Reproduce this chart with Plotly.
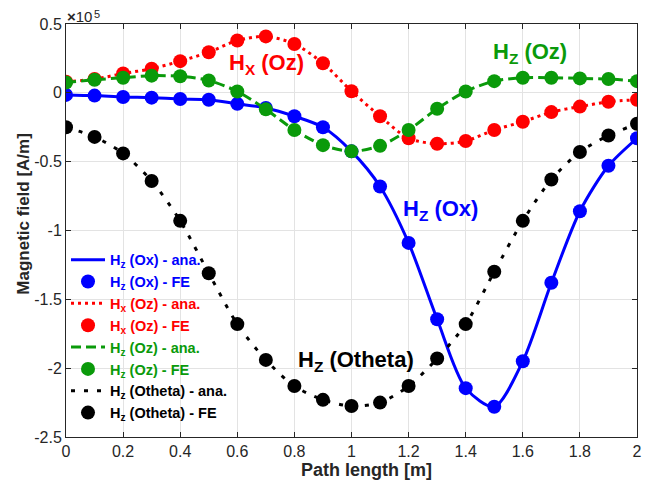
import plotly.graph_objects as go

x = [0.0, 0.1, 0.2, 0.3, 0.4, 0.5, 0.6, 0.7, 0.8, 0.9, 1.0,
     1.1, 1.2, 1.3, 1.4, 1.5, 1.6, 1.7, 1.8, 1.9, 2.0]

hz_ox = [-0.015, -0.02, -0.03, -0.035, -0.045, -0.05, -0.08, -0.11, -0.17, -0.25, -0.425,
         -0.68, -1.09, -1.645, -2.145, -2.28, -1.95, -1.38, -0.86, -0.53, -0.33]
hx_oz = [0.08, 0.10, 0.14, 0.175, 0.23, 0.295, 0.38, 0.41, 0.355, 0.215, 0.012,
         -0.17, -0.33, -0.37, -0.35, -0.27, -0.21, -0.14, -0.10, -0.065, -0.05]
hz_oz = [0.075, 0.095, 0.11, 0.125, 0.12, 0.09, 0.01, -0.12, -0.27, -0.38, -0.425,
         -0.385, -0.27, -0.116, 0.01, 0.085, 0.11, 0.11, 0.105, 0.10, 0.085]
hz_oth = [-0.25, -0.32, -0.44, -0.64, -0.93, -1.31, -1.68, -1.94, -2.13, -2.23, -2.275,
          -2.25, -2.13, -1.93, -1.68, -1.30, -0.93, -0.63, -0.43, -0.31, -0.225]

x_ticks = [0, 0.2, 0.4, 0.6, 0.8, 1.0, 1.2, 1.4, 1.6, 1.8, 2.0]
x_tick_labels = ["0", "0.2", "0.4", "0.6", "0.8", "1", "1.2", "1.4", "1.6", "1.8", "2"]
y_ticks = [0.5, 0, -0.5, -1, -1.5, -2, -2.5]
y_tick_labels = ["0.5", "0", "-0.5", "-1", "-1.5", "-2", "-2.5"]

BLUE = "#0000ff"
RED = "#ff0000"
GREEN = "#0a9a0a"
BLACK = "#000000"

series = [
    ("H<sub>z</sub> (Ox)", hz_ox, BLUE, "solid"),
    ("H<sub>x</sub> (Oz)", hx_oz, RED, "3px,4px"),
    ("H<sub>z</sub> (Oz)", hz_oz, GREEN, "10px,5px"),
    ("H<sub>z</sub> (Otheta)", hz_oth, BLACK, "4px,9px"),
]

fig = go.Figure()
rank = 1
for name, vals, col, dash in series:
    fig.add_trace(go.Scatter(
        x=x, y=vals, mode="lines", line=dict(color=col, width=3, dash=dash, shape="spline", smoothing=0.8),
        name=f"<span style='color:{col}'>{name} - ana.</span>", legendrank=rank))
    rank += 1
    fig.add_trace(go.Scatter(
        x=x, y=vals, mode="markers", marker=dict(color=col, size=14),
        name=f"<span style='color:{col}'>{name} - FE</span>", legendrank=rank))
    rank += 1

font_family = "Liberation Sans, Arial, sans-serif"
ax_col = "#262626"

fig.update_layout(
    width=657, height=483,
    margin=dict(l=58, r=28, t=16, b=54, autoexpand=False),
    paper_bgcolor="white", plot_bgcolor="white",
    font=dict(family=font_family, size=16, color=ax_col),
    showlegend=True,
    legend=dict(x=0.0, y=0.468, xanchor="left", yanchor="top",
                bgcolor="rgba(255,255,255,0)", borderwidth=0,
                font=dict(size=14.5, family=font_family, weight="bold"),
                itemwidth=34, tracegroupgap=0),
    xaxis=dict(range=[0, 2], tickvals=x_ticks, ticktext=x_tick_labels,
               showgrid=True, gridcolor="#e3e3e3", gridwidth=1,
               showline=True, linecolor=ax_col, linewidth=1, mirror="allticks",
               ticks="inside", ticklen=5, tickcolor=ax_col, zeroline=False,
               automargin=False, tickfont=dict(size=16)),
    yaxis=dict(range=[-2.5, 0.5], tickvals=y_ticks, ticktext=y_tick_labels,
               showgrid=True, gridcolor="#e3e3e3", gridwidth=1,
               showline=True, linecolor=ax_col, linewidth=1, mirror="allticks",
               ticks="inside", ticklen=5, tickcolor=ax_col, zeroline=False,
               automargin=False, tickfont=dict(size=16)),
)

# axis titles (positioned like the reference)
fig.add_annotation(xref="paper", yref="paper", x=0.527, y=-0.05, xanchor="center", yanchor="top",
                   text="<b>Path length [m]</b>", showarrow=False,
                   font=dict(size=18, color=ax_col, family=font_family))
fig.add_annotation(xref="paper", yref="paper", x=-0.054, y=0.54, xanchor="right", yanchor="middle",
                   text="<b>Magnetic field [A/m]</b>", showarrow=False, textangle=-90,
                   font=dict(size=17, color=ax_col, family=font_family))

annots = [
    ("H<sub>X</sub> (Oz)", 0.704, 0.21, RED),
    ("H<sub>Z</sub> (Oz)", 1.625, 0.29, GREEN),
    ("H<sub>Z</sub> (Ox)", 1.31, -0.85, BLUE),
    ("H<sub>Z</sub> (Otheta)", 1.017, -1.95, BLACK),
]
for txt, ax, ay, col in annots:
    fig.add_annotation(x=ax, y=ay, text=f"<b>{txt}</b>", showarrow=False,
                       xanchor="center", yanchor="middle",
                       font=dict(size=22, color=col, family=font_family))

# exponent marker
fig.add_annotation(xref="paper", yref="paper", x=0.0, y=1.0, xanchor="left", yanchor="bottom",
                   text="<b>×</b>10", showarrow=False, yshift=-2, borderpad=0,
                   font=dict(size=15, color=ax_col, family=font_family))
fig.add_annotation(xref="paper", yref="paper", x=0.047, y=1.0, xanchor="left", yanchor="bottom",
                   text="5", showarrow=False, yshift=3, borderpad=0,
                   font=dict(size=11, color=ax_col, family=font_family))

fig.write_html("out.html")
